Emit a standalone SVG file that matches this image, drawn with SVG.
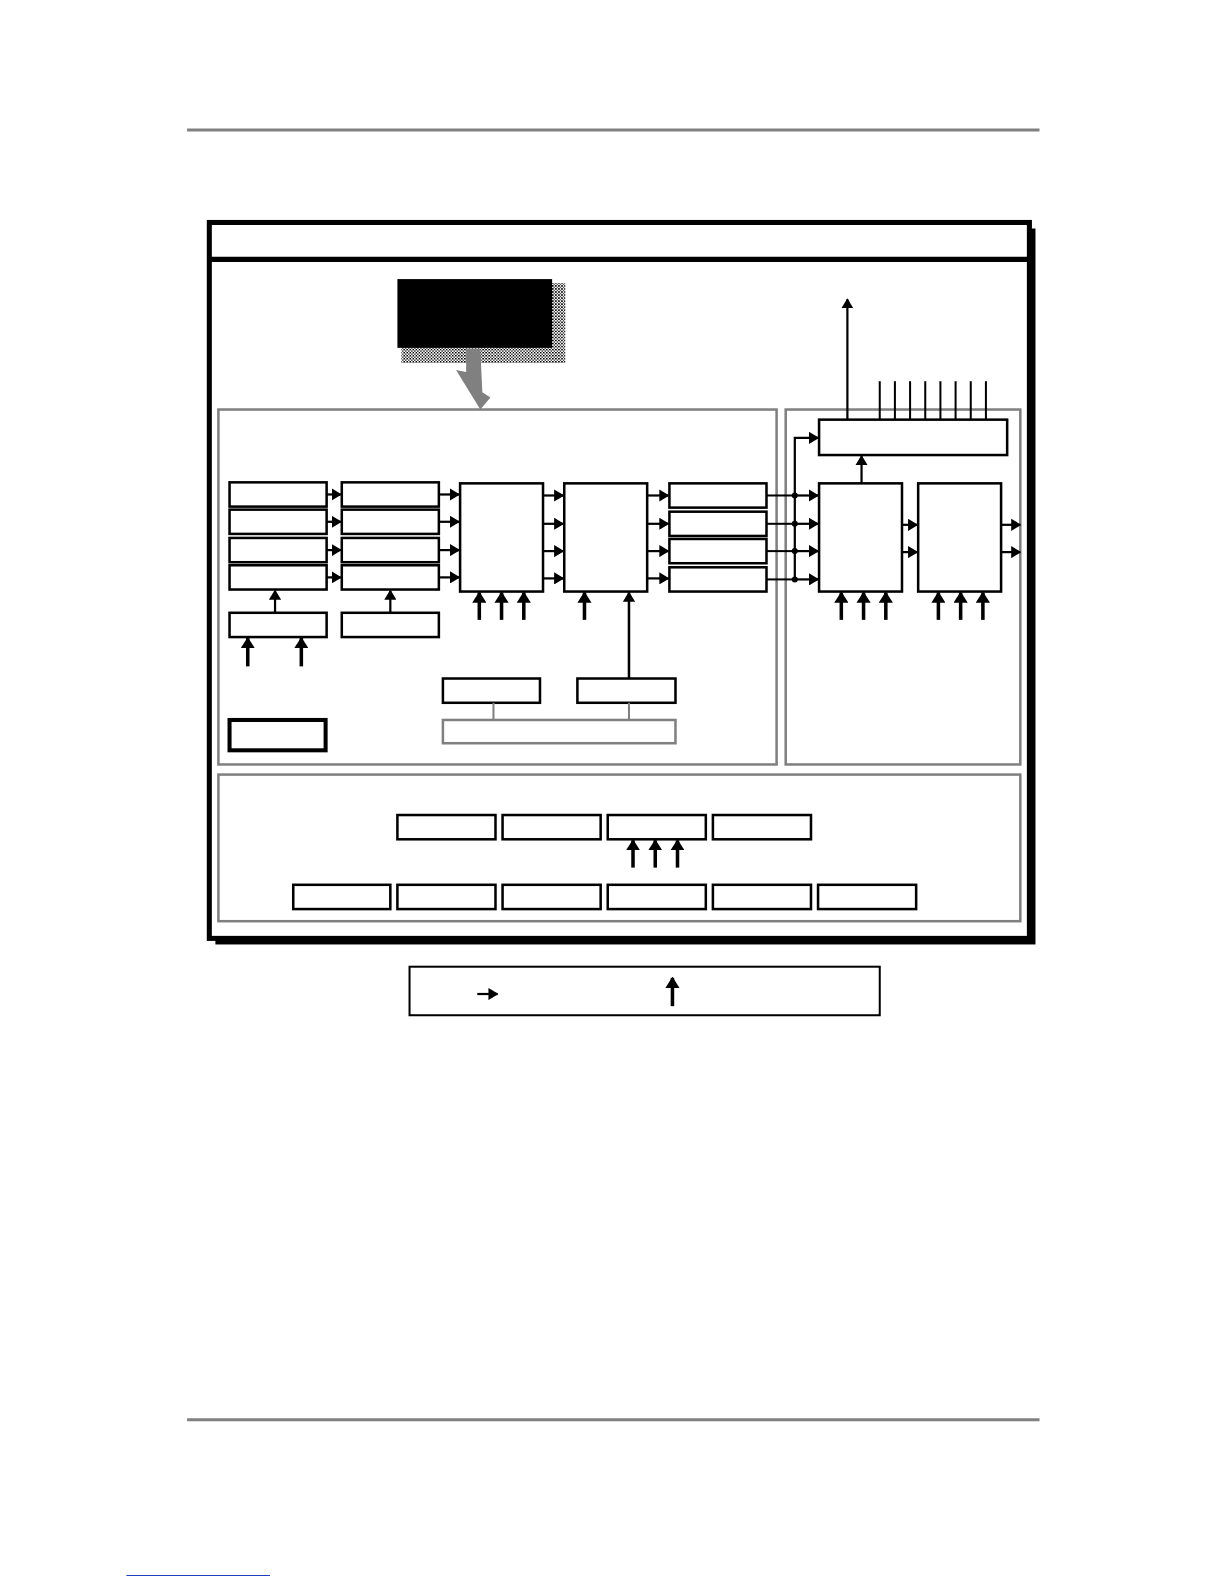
<svg xmlns="http://www.w3.org/2000/svg" width="1224" height="1584" viewBox="0 0 1224 1584">
<defs>
<style>
.rule{stroke:#808080;stroke-width:3;fill:none}
.panel{fill:none;stroke:#808080;stroke-width:2.5}
.box{fill:#fff;stroke:#000;stroke-width:2.5}
.gbox{fill:#fff;stroke:#808080;stroke-width:2.5}
.ln{stroke:#000;stroke-width:2;fill:none}
.gln{stroke:#808080;stroke-width:2;fill:none}
.arr{stroke:#000;stroke-width:2.2;fill:none;marker-end:url(#ah)}
.tarr{stroke:#000;stroke-width:3.5;fill:none;marker-end:url(#th)}
</style>
<marker id="ah" markerUnits="userSpaceOnUse" markerWidth="10" markerHeight="12" refX="9" refY="6" orient="auto"><path d="M0,0 L10,6 L0,12 Z" fill="#000"/></marker>
<marker id="th" markerUnits="userSpaceOnUse" markerWidth="12" markerHeight="14" refX="10" refY="7" orient="auto"><path d="M0,0 L11,7 L0,14 Z" fill="#000"/></marker>
<pattern id="chk" width="3" height="3" patternUnits="userSpaceOnUse"><rect width="3" height="3" fill="#fff"/><rect width="1.5" height="1.5" fill="#000"/><rect x="1.5" y="1.5" width="1.5" height="1.5" fill="#555"/></pattern>
</defs>
<rect width="1224" height="1584" fill="#fff"/>
<g transform="scale(1.0112)">
<line class="rule" x1="185" y1="128.5" x2="1028" y2="128.5"/>
<line class="rule" x1="185" y1="1404" x2="1028" y2="1404"/>
<line x1="125" y1="1558" x2="267" y2="1558" stroke="#2040c0" stroke-width="1"/>

<g id="frame">
<rect x="213" y="226" width="811" height="708" fill="#000"/>
<rect x="207" y="220" width="811" height="708" fill="#fff" stroke="#000" stroke-width="5"/>
<line x1="207" y1="256.5" x2="1018" y2="256.5" stroke="#000" stroke-width="5"/>
</g>

<g id="balloon">
<rect x="397" y="280" width="162" height="79" fill="url(#chk)"/>
<rect x="393" y="276" width="153" height="68" fill="#000"/>
<polygon points="461,345 475,345 477,388 485,393 475,405 451,366 461,368" fill="#808080"/>
</g>

<g id="panels">
<rect class="panel" x="216" y="405" width="552" height="351"/>
<rect class="panel" x="777" y="405" width="232" height="351"/>
<rect class="panel" x="216" y="766" width="793" height="145"/>
</g>

<g id="col1">
<rect class="box" x="227" y="477" width="96" height="24"/>
<rect class="box" x="227" y="504" width="96" height="24"/>
<rect class="box" x="227" y="532" width="96" height="24"/>
<rect class="box" x="227" y="559" width="96" height="24"/>
<rect class="box" x="227" y="606" width="96" height="24"/>
</g>
<g id="col2">
<rect class="box" x="338" y="477" width="96" height="24"/>
<rect class="box" x="338" y="504" width="96" height="24"/>
<rect class="box" x="338" y="532" width="96" height="24"/>
<rect class="box" x="338" y="559" width="96" height="24"/>
<rect class="box" x="338" y="606" width="96" height="24"/>
</g>
<g id="blockA"><rect class="box" x="455" y="478" width="82" height="107"/></g>
<g id="blockB"><rect class="box" x="558" y="478" width="82" height="107"/></g>
<g id="col3">
<rect class="box" x="662" y="478" width="96" height="24"/>
<rect class="box" x="662" y="506" width="96" height="24"/>
<rect class="box" x="662" y="533" width="96" height="24"/>
<rect class="box" x="662" y="561" width="96" height="24"/>
</g>
<g id="thickbox"><rect x="227" y="712" width="95" height="30" fill="#fff" stroke="#000" stroke-width="4"/></g>
<g id="lowboxes">
<rect class="box" x="438" y="671" width="96" height="24"/>
<rect class="box" x="571" y="671" width="97" height="24"/>
<rect class="gbox" x="438" y="712" width="230" height="23"/>
</g>
<g id="topbox"><rect class="box" x="810" y="415" width="186" height="35"/></g>
<g id="blockC"><rect class="box" x="810" y="478" width="82" height="107"/></g>
<g id="blockD"><rect class="box" x="908" y="478" width="82" height="107"/></g>
<g id="bottomrow1">
<rect class="box" x="393" y="806" width="97" height="24"/>
<rect class="box" x="497" y="806" width="97" height="24"/>
<rect class="box" x="601" y="806" width="97" height="24"/>
<rect class="box" x="705" y="806" width="97" height="24"/>
</g>
<g id="bottomrow2">
<rect class="box" x="290" y="875" width="96" height="24"/>
<rect class="box" x="393" y="875" width="97" height="24"/>
<rect class="box" x="497" y="875" width="97" height="24"/>
<rect class="box" x="601" y="875" width="97" height="24"/>
<rect class="box" x="705" y="875" width="97" height="24"/>
<rect class="box" x="809" y="875" width="97" height="24"/>
</g>
<g id="legend">
<rect x="405" y="956" width="465" height="48" fill="#fff" stroke="#000" stroke-width="2"/>
<line x1="472" y1="983" x2="492" y2="983" class="arr"/>
<line x1="665" y1="995" x2="665" y2="967" class="tarr"/>
</g>

<g id="connectors">
<line class="arr" x1="323" y1="489" x2="337" y2="489"/>
<line class="arr" x1="323" y1="516" x2="337" y2="516"/>
<line class="arr" x1="323" y1="544" x2="337" y2="544"/>
<line class="arr" x1="323" y1="571" x2="337" y2="571"/>
<line class="arr" x1="434" y1="489" x2="454" y2="489"/>
<line class="arr" x1="434" y1="516" x2="454" y2="516"/>
<line class="arr" x1="434" y1="544" x2="454" y2="544"/>
<line class="arr" x1="434" y1="571" x2="454" y2="571"/>
<line class="arr" x1="272" y1="606" x2="272" y2="584"/>
<line class="arr" x1="386" y1="606" x2="386" y2="584"/>
<line class="tarr" x1="245" y1="659" x2="245" y2="631"/>
<line class="tarr" x1="298" y1="659" x2="298" y2="631"/>
<line class="arr" x1="537" y1="490" x2="557" y2="490"/>
<line class="arr" x1="537" y1="518" x2="557" y2="518"/>
<line class="arr" x1="537" y1="545" x2="557" y2="545"/>
<line class="arr" x1="537" y1="572" x2="557" y2="572"/>
<line class="arr" x1="640" y1="490" x2="661" y2="490"/>
<line class="arr" x1="640" y1="518" x2="661" y2="518"/>
<line class="arr" x1="640" y1="545" x2="661" y2="545"/>
<line class="arr" x1="640" y1="572" x2="661" y2="572"/>
<line class="tarr" x1="474" y1="613" x2="474" y2="586"/>
<line class="tarr" x1="496" y1="613" x2="496" y2="586"/>
<line class="tarr" x1="518" y1="613" x2="518" y2="586"/>
<line class="tarr" x1="578" y1="613" x2="578" y2="586"/>
<line class="arr" x1="622" y1="671" x2="622" y2="586" style="stroke-width:2.5"/>
<line class="gln" x1="488" y1="695" x2="488" y2="712"/>
<line class="gln" x1="622" y1="695" x2="622" y2="712"/>
<line class="ln" x1="758" y1="490" x2="786" y2="490"/>
<line class="ln" x1="758" y1="518" x2="786" y2="518"/>
<line class="ln" x1="758" y1="545" x2="786" y2="545"/>
<line class="ln" x1="758" y1="573" x2="786" y2="573"/>
<line class="arr" x1="786" y1="490" x2="809" y2="490"/>
<line class="arr" x1="786" y1="518" x2="809" y2="518"/>
<line class="arr" x1="786" y1="545" x2="809" y2="545"/>
<line class="arr" x1="786" y1="573" x2="809" y2="573"/>
<path class="arr" d="M786,573 V433 H809"/>
<circle cx="786" cy="490" r="3" fill="#000"/>
<circle cx="786" cy="518" r="3" fill="#000"/>
<circle cx="786" cy="545" r="3" fill="#000"/>
<circle cx="786" cy="573" r="3" fill="#000"/>
<line class="arr" x1="852" y1="478" x2="852" y2="451"/>
<line class="arr" x1="892" y1="519" x2="907" y2="519"/>
<line class="arr" x1="892" y1="546" x2="907" y2="546"/>
<line class="arr" x1="990" y1="519" x2="1009" y2="519"/>
<line class="arr" x1="990" y1="546" x2="1009" y2="546"/>
<line class="tarr" x1="832" y1="613" x2="832" y2="586"/>
<line class="tarr" x1="854" y1="613" x2="854" y2="586"/>
<line class="tarr" x1="876" y1="613" x2="876" y2="586"/>
<line class="tarr" x1="928" y1="613" x2="928" y2="586"/>
<line class="tarr" x1="950" y1="613" x2="950" y2="586"/>
<line class="tarr" x1="972" y1="613" x2="972" y2="586"/>
<line class="arr" x1="838" y1="415" x2="838" y2="296"/>
<line class="ln" x1="870" y1="377" x2="870" y2="415"/>
<line class="ln" x1="885" y1="377" x2="885" y2="415"/>
<line class="ln" x1="900" y1="377" x2="900" y2="415"/>
<line class="ln" x1="915" y1="377" x2="915" y2="415"/>
<line class="ln" x1="930" y1="377" x2="930" y2="415"/>
<line class="ln" x1="945" y1="377" x2="945" y2="415"/>
<line class="ln" x1="960" y1="377" x2="960" y2="415"/>
<line class="ln" x1="975" y1="377" x2="975" y2="415"/>
<line class="tarr" x1="626" y1="858" x2="626" y2="831"/>
<line class="tarr" x1="648" y1="858" x2="648" y2="831"/>
<line class="tarr" x1="670" y1="858" x2="670" y2="831"/>
</g>
</g>
</svg>
